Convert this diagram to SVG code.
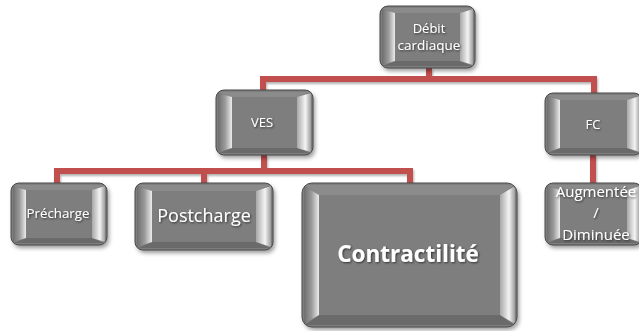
<svg xmlns="http://www.w3.org/2000/svg" width="639" height="331" viewBox="0 0 639 331">
<style>
.face{fill:#7e7e7e}
.edge{fill:none;stroke:#4a4a4a;stroke-width:1}
.tb{fill:#8b8b8b}
.bb{fill:#6a6a6a}
.lb{fill:url(#gl)}
.rb{fill:url(#gr)}
.t{fill:#ffffff;font-family:"Open Sans","Liberation Sans",sans-serif;text-anchor:middle;filter:url(#ts)}
.c{fill:none;stroke:#c0504d;stroke-width:6;stroke-linejoin:miter;stroke-linecap:butt}
</style>
<defs>
<linearGradient id="gl" x1="0" y1="0" x2="1" y2="0">
<stop offset="0" stop-color="#6e6e6e"/>
<stop offset="0.5" stop-color="#9a9a9a"/>
<stop offset="1" stop-color="#ececec"/>
</linearGradient>
<linearGradient id="gr" x1="0" y1="0" x2="1" y2="0">
<stop offset="0" stop-color="#a8a8a8"/>
<stop offset="0.6" stop-color="#f4f4f4"/>
<stop offset="1" stop-color="#9c9c9c"/>
</linearGradient>
<filter id="sh" x="-10%" y="-10%" width="125%" height="130%">
<feDropShadow dx="2" dy="3" stdDeviation="2" flood-color="#000" flood-opacity="0.4"/>
</filter>
<filter id="ts" x="-10%" y="-30%" width="120%" height="160%">
<feDropShadow dx="1" dy="1" stdDeviation="0.8" flood-color="#000" flood-opacity="0.6"/>
</filter>
<filter id="ls">
<feDropShadow dx="1" dy="2" stdDeviation="1.2" flood-color="#000" flood-opacity="0.3"/>
</filter>
</defs>

<g id="connectors" filter="url(#ls)">
<path class="c" d="M429,68 V79"/>
<path class="c" d="M263,90 V79 H594 V93"/>
<path class="c" d="M264,155 V171"/>
<path class="c" d="M57,183 V171 H410 V183"/>
<path class="c" d="M204,171 V183"/>
<path class="c" d="M593,155 V183"/>
</g>

<g id="debit">
<rect class="face" x="380" y="6" width="95" height="62" rx="8" filter="url(#sh)"/>
<path class="tb" d="M383,8 L472,8 L460,13 L395,13 Z"/>
<path class="bb" d="M395,61 L460,61 L472,66 L383,66 Z"/>
<path class="lb" d="M382,9 L395,13 L395,61 L382,65 Z"/>
<path class="rb" d="M460,13 L473,9 L473,65 L460,61 Z"/>
<rect class="edge" x="380" y="6" width="95" height="62" rx="8"/>
<text class="t" x="429" y="33" font-size="13">Débit</text>
<text class="t" x="429" y="50" font-size="13.5">cardiaque</text>
</g>

<g id="ves">
<rect class="face" x="216" y="90" width="97" height="65" rx="8" filter="url(#sh)"/>
<path class="tb" d="M219,92 L310,92 L297,97 L232,97 Z"/>
<path class="bb" d="M232,148 L297,148 L310,153 L219,153 Z"/>
<path class="lb" d="M218,93 L232,97 L232,148 L218,152 Z"/>
<path class="rb" d="M297,97 L311,93 L311,152 L297,148 Z"/>
<rect class="edge" x="216" y="90" width="97" height="65" rx="8"/>
<text class="t" x="262" y="127" font-size="13">VES</text>
</g>

<g id="fc">
<rect class="face" x="545" y="93" width="97" height="62" rx="8" filter="url(#sh)"/>
<path class="tb" d="M548,95 L639,95 L627,100 L560,100 Z"/>
<path class="bb" d="M560,148 L627,148 L639,153 L548,153 Z"/>
<path class="lb" d="M547,96 L560,100 L560,148 L547,152 Z"/>
<path class="rb" d="M627,100 L640,96 L640,152 L627,148 Z"/>
<rect class="edge" x="545" y="93" width="97" height="62" rx="8"/>
<text class="t" x="593" y="129" font-size="13">FC</text>
</g>

<g id="augmentee">
<rect class="face" x="545" y="183" width="97" height="62" rx="8" filter="url(#sh)"/>
<path class="tb" d="M548,185 L639,185 L627,190 L560,190 Z"/>
<path class="bb" d="M560,238 L627,238 L639,243 L548,243 Z"/>
<path class="lb" d="M547,186 L560,190 L560,238 L547,242 Z"/>
<path class="rb" d="M627,190 L640,186 L640,242 L627,238 Z"/>
<rect class="edge" x="545" y="183" width="97" height="62" rx="8"/>
<text class="t" x="596" y="197" font-size="15">Augmentée</text>
<text class="t" x="596" y="218" font-size="15">/</text>
<text class="t" x="596" y="240" font-size="15">Diminuée</text>
</g>

<g id="precharge">
<rect class="face" x="11" y="183" width="96" height="62" rx="8" filter="url(#sh)"/>
<path class="tb" d="M14,185 L104,185 L92,190 L26,190 Z"/>
<path class="bb" d="M26,238 L92,238 L104,243 L14,243 Z"/>
<path class="lb" d="M13,186 L26,190 L26,238 L13,242 Z"/>
<path class="rb" d="M92,190 L105,186 L105,242 L92,238 Z"/>
<rect class="edge" x="11" y="183" width="96" height="62" rx="8"/>
<text class="t" x="58" y="218" font-size="13.3">Précharge</text>
</g>

<g id="postcharge">
<rect class="face" x="135" y="183" width="138" height="67" rx="8" filter="url(#sh)"/>
<path class="tb" d="M138,185 L270,185 L256,191 L152,191 Z"/>
<path class="bb" d="M152,242 L256,242 L270,248 L138,248 Z"/>
<path class="lb" d="M137,186 L152,191 L152,242 L137,247 Z"/>
<path class="rb" d="M256,191 L271,186 L271,247 L256,242 Z"/>
<rect class="edge" x="135" y="183" width="138" height="67" rx="8"/>
<text class="t" x="204" y="222" font-size="18">Postcharge</text>
</g>

<g id="contractilite">
<rect class="face" x="302" y="183" width="215" height="144" rx="10" filter="url(#sh)"/>
<path class="tb" d="M305,185 L514,185 L500,195 L319,195 Z"/>
<path class="bb" d="M319,315 L500,315 L514,325 L305,325 Z"/>
<path class="lb" d="M304,186 L319,195 L319,315 L304,324 Z"/>
<path class="rb" d="M500,195 L515,186 L515,324 L500,315 Z"/>
<rect class="edge" x="302" y="183" width="215" height="144" rx="10"/>
<text class="t" x="408" y="262" font-size="22.5" font-weight="bold">Contractilité</text>
</g>
</svg>
